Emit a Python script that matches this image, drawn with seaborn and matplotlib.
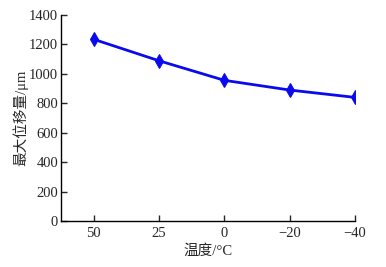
import matplotlib
matplotlib.use("Agg")
import matplotlib.pyplot as plt
import seaborn as sns
import numpy as np
import pandas as pd

categories = ["50", "25", "0", "\u221220", "\u221240"]
values = [1235, 1089, 956, 890, 840]
yticks = [0, 200, 400, 600, 800, 1000, 1200, 1400]

sns.set_style("white")
plt.rcParams['font.family'] = ['Liberation Serif', 'Noto Sans CJK SC']
plt.rcParams['axes.unicode_minus'] = True

df = pd.DataFrame({"pos": np.arange(len(categories)), "val": values})

fig = plt.figure(figsize=(3.86, 2.67), dpi=100)
ax = fig.add_axes([0.158, 0.1723, 0.762, 0.7715])
sns.lineplot(data=df, x="pos", y="val", ax=ax, color="#0a0aee", linewidth=2,
             marker="d", markersize=7, markeredgecolor="#0a0aee")

ax.set_xlim(-0.5, 4)
ax.set_ylim(0, 1400)
ax.set_xticks(df["pos"])
ax.set_xticklabels(categories)
ax.set_yticks(yticks)
ax.set_xlabel("温度/°C", fontsize=10.5, labelpad=3)
ax.set_ylabel("最大位移量/μm", fontsize=10.5, labelpad=0.5)
for s in ["top", "right"]:
    ax.spines[s].set_visible(False)
for s in ["left", "bottom"]:
    ax.spines[s].set_color("black")
    ax.spines[s].set_linewidth(1)
ax.tick_params(axis="y", direction="in", length=4, width=1, labelsize=10.5, pad=2, left=True)
ax.tick_params(axis="x", direction="in", length=4, width=1, labelsize=10.5, pad=4, bottom=True)

fig.savefig("out.png", dpi=100)
